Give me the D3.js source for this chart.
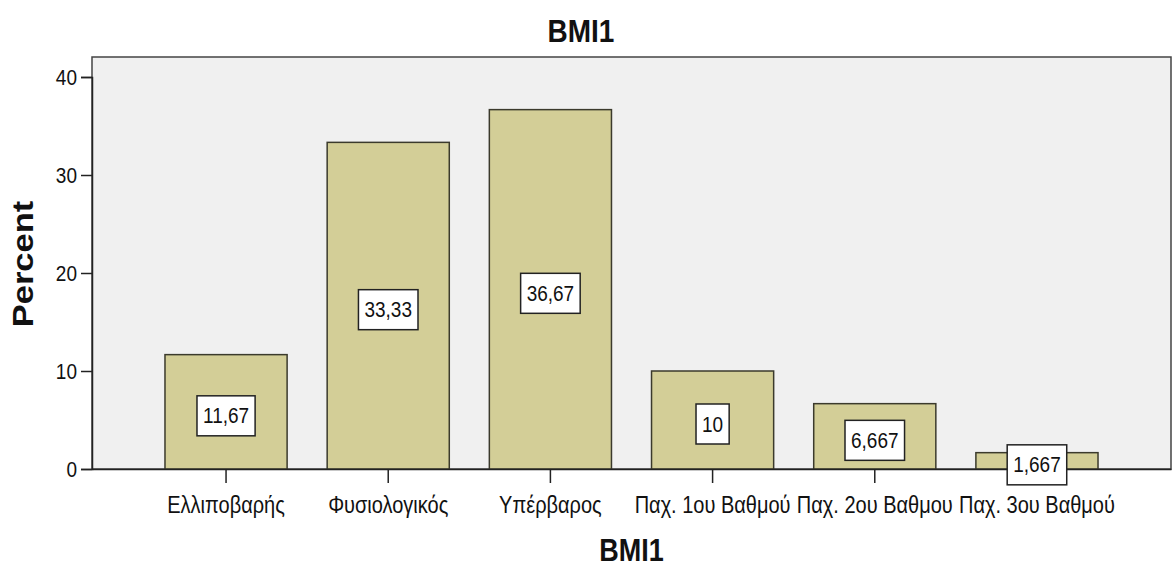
<!DOCTYPE html>
<html>
<head>
<meta charset="utf-8">
<script src="https://cdn.jsdelivr.net/npm/d3@7"></script>
<style>
  body { margin: 0; background: #fff; }
  text { font-family: "Liberation Sans", Arial, sans-serif; fill: #111; }
</style>
</head>
<body>
<div id="chart"></div>
<script>
// Data
const categories = ["Ελλιποβαρής", "Φυσιολογικός", "Υπέρβαρος", "Παχ. 1ου Βαθμού", "Παχ. 2ου Βαθμου", "Παχ. 3ου Βαθμού"];
const percents = [11.67, 33.33, 36.67, 10, 6.667, 1.667];
const yTicks = [0, 10, 20, 30, 40];

const width = 1172, height = 570;
const plot = { left: 92, right: 1171, top: 57, bottom: 469 };
const stretch = 1.15; // the original picture is a bit taller than wide

const svg = d3.select("#chart").append("svg")
    .attr("width", width)
    .attr("height", height);

const x = d3.scaleBand()
    .domain(categories)
    .range([plot.left, plot.right])
    .paddingInner(0.247)
    .paddingOuter(0.45);

const y = d3.scaleLinear()
    .domain([0, 40])
    .range([plot.bottom, plot.bottom - 392]);

// Greek style numbers: comma as decimal mark
const locale = d3.formatLocale({ decimal: ",", thousands: ".", grouping: [3], currency: ["", "€"] });
const fmt = locale.format(".4~r");

// Plot background
svg.append("rect")
    .attr("x", plot.left)
    .attr("y", plot.top)
    .attr("width", plot.right - plot.left)
    .attr("height", plot.bottom - plot.top)
    .attr("fill", "#f0f0f0")
    .attr("stroke", "#444")
    .attr("stroke-width", 1.5);

// Bars
svg.selectAll("rect.bar")
    .data(percents)
    .enter().append("rect")
    .attr("class", "bar")
    .attr("x", (d, i) => x(categories[i]))
    .attr("y", d => y(d))
    .attr("width", x.bandwidth())
    .attr("height", d => y(0) - y(d))
    .attr("fill", "#d3ce97")
    .attr("stroke", "#3b3a2c")
    .attr("stroke-width", 1.5);

// Y axis
const yAxis = svg.append("g")
    .attr("transform", `translate(${plot.left},0)`)
    .call(d3.axisLeft(y).tickValues(yTicks).tickSize(11).tickPadding(4));
yAxis.select(".domain").attr("stroke", "#222").attr("stroke-width", 1.5);
yAxis.selectAll(".tick line").attr("stroke", "#222").attr("stroke-width", 1.5);
yAxis.selectAll(".tick text")
    .attr("font-size", 19)
    .attr("font-family", "Liberation Sans, Arial, sans-serif")
    .attr("fill", "#111")
    .attr("transform", `scale(1,${stretch})`);

// X axis
const xAxis = svg.append("g")
    .attr("transform", `translate(0,${plot.bottom})`)
    .call(d3.axisBottom(x).tickSize(14).tickPadding(10).tickSizeOuter(0));
xAxis.select(".domain").attr("stroke", "#222").attr("stroke-width", 1.5);
xAxis.selectAll(".tick line").attr("stroke", "#222").attr("stroke-width", 1.5);
xAxis.selectAll(".tick text")
    .attr("font-size", 20)
    .attr("font-family", "Liberation Sans, Arial, sans-serif")
    .attr("fill", "#111")
    .attr("transform", `scale(1,${stretch})`);

// Value labels in white boxes
const labels = svg.selectAll("g.label")
    .data(percents)
    .enter().append("g")
    .attr("class", "label")
    .attr("transform", (d, i) => `translate(${x(categories[i]) + x.bandwidth() / 2},${y(d / 2) + 4})`);

labels.append("text")
    .attr("text-anchor", "middle")
    .attr("dy", "0.35em")
    .attr("font-size", 19)
    .attr("transform", `scale(1,${stretch})`)
    .text(d => fmt(d));

labels.each(function() {
    const g = d3.select(this);
    const w = g.select("text").node().getBBox().width;
    g.insert("rect", "text")
        .attr("x", -w / 2 - 6)
        .attr("y", -20)
        .attr("width", w + 12)
        .attr("height", 40)
        .attr("fill", "#fff")
        .attr("stroke", "#222")
        .attr("stroke-width", 1.5);
});

// Title
svg.append("text")
    .attr("transform", `translate(581,42) scale(1,${stretch})`)
    .attr("text-anchor", "middle")
    .attr("font-size", 28)
    .attr("font-weight", "bold")
    .text("BMI1");

// X axis title
svg.append("text")
    .attr("transform", `translate(${(plot.left + plot.right) / 2},561) scale(1,${stretch})`)
    .attr("text-anchor", "middle")
    .attr("font-size", 27)
    .attr("font-weight", "bold")
    .text("BMI1");

// Y axis title
svg.append("text")
    .attr("transform", `translate(33,264) rotate(-90) scale(${stretch},1)`)
    .attr("text-anchor", "middle")
    .attr("font-size", 30)
    .attr("font-weight", "bold")
    .text("Percent");
</script>
</body>
</html>
